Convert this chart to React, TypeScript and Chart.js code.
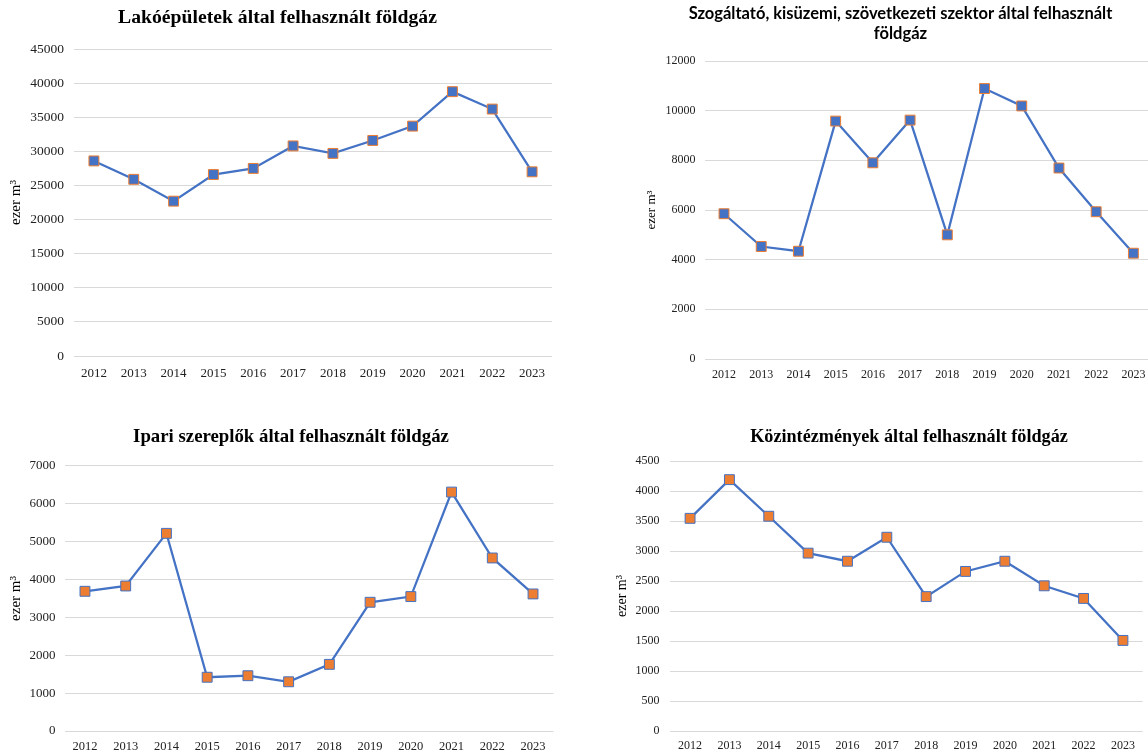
import React, { useEffect, useRef } from 'react';
import { Chart, registerables } from 'chart.js';

Chart.register(...registerables);

// ---- data ----
const years = ['2012', '2013', '2014', '2015', '2016', '2017', '2018', '2019', '2020', '2021', '2022', '2023'];
const residentialValues = [28600, 25900, 22700, 26600, 27500, 30800, 29700, 31600, 33700, 38750, 36200, 27000];
const serviceValues = [5850, 4530, 4340, 9580, 7900, 9620, 5000, 10890, 10190, 7690, 5930, 4260];
const industrialValues = [3690, 3830, 5220, 1420, 1460, 1300, 1760, 3400, 3550, 6310, 4570, 3620];
const publicValues = [3545, 4190, 3580, 2965, 2830, 3230, 2240, 2660, 2830, 2420, 2210, 1510];

const residentialTitle = 'Lakóépületek által felhasznált földgáz';
const serviceTitle = ['Szogáltató, kisüzemi, szövetkezeti szektor által felhasznált', 'földgáz'];
const industrialTitle = 'Ipari szereplők által felhasznált földgáz';
const publicTitle = 'Közintézmények által felhasznált földgáz';
const yAxisTitle = 'ezer m³';

const yMax = [45000, 12000, 7000, 4500];
const yStep = [5000, 2000, 1000, 500];

// ---- styles ----
const BLUE = '#4472C4';
const ORANGE = '#ED7D31';
const GRID = '#D9D9D9';
const SERIF = '"Liberation Serif", "Times New Roman", serif';
const SANS = 'Lato, "Liberation Sans", sans-serif';

type Spec = {
  left: number; top: number; width: number; height: number;
  yAxisWidth: number; rightWidth: number; xAxisHeight: number;
  title: string | string[]; titleFamily: string; titleSize: number; titleLH: number;
  titlePadTop: number; titlePadBottom: number;
  yTitleSize: number; yTitlePad: number;
  yTickSize: number; yTickPad: number;
  xTickSize: number; xTickPad: number;
  values: number[]; max: number; step: number;
  pointFill: string; pointBorder: string;
};

const specs: Spec[] = [
  {
    left: -7, top: 0, width: 569, height: 390,
    yAxisWidth: 81, rightWidth: 10, xAxisHeight: 34,
    title: residentialTitle, titleFamily: SERIF, titleSize: 19.7, titleLH: 1.2,
    titlePadTop: 6.2, titlePadBottom: 19.2,
    yTitleSize: 15, yTitlePad: 14,
    yTickSize: 13.5, yTickPad: 10,
    xTickSize: 13, xTickPad: 10,
    values: residentialValues, max: yMax[0], step: yStep[0],
    pointFill: BLUE, pointBorder: ORANGE,
  },
  {
    left: 639, top: 0, width: 523, height: 390,
    yAxisWidth: 66.4, rightWidth: 10, xAxisHeight: 31,
    title: serviceTitle, titleFamily: SANS, titleSize: 16.5, titleLH: 20 / 16.5,
    titlePadTop: 4, titlePadBottom: 17,
    yTitleSize: 13, yTitlePad: 5.2,
    yTickSize: 12, yTickPad: 10,
    xTickSize: 12, xTickPad: 9,
    values: serviceValues, max: yMax[1], step: yStep[1],
    pointFill: BLUE, pointBorder: ORANGE,
  },
  {
    left: 0, top: 390, width: 582, height: 366,
    yAxisWidth: 64.6, rightWidth: 28.6, xAxisHeight: 25,
    title: industrialTitle, titleFamily: SERIF, titleSize: 18.8, titleLH: 1.2,
    titlePadTop: 35.7, titlePadBottom: 17.7,
    yTitleSize: 15, yTitlePad: 7,
    yTickSize: 13, yTickPad: 9,
    xTickSize: 12.5, xTickPad: 8,
    values: industrialValues, max: yMax[2], step: yStep[2],
    pointFill: ORANGE, pointBorder: BLUE,
  },
  {
    left: 605, top: 390, width: 608, height: 366,
    yAxisWidth: 65.4, rightWidth: 70.4, xAxisHeight: 25,
    title: publicTitle, titleFamily: SERIF, titleSize: 18.2, titleLH: 1.2,
    titlePadTop: 36.1, titlePadBottom: 13.1,
    yTitleSize: 14, yTitlePad: 8.6,
    yTickSize: 12, yTickPad: 11,
    xTickSize: 12, xTickPad: 8,
    values: publicValues, max: yMax[3], step: yStep[3],
    pointFill: ORANGE, pointBorder: BLUE,
  },
];

function LineChart({ spec }: { spec: Spec }) {
  const ref = useRef<HTMLCanvasElement | null>(null);
  useEffect(() => {
    if (!ref.current) return;
    const chart = new Chart(ref.current, {
      type: 'line',
      data: {
        labels: years,
        datasets: [
          {
            data: spec.values,
            borderColor: BLUE,
            borderWidth: 2.25,
            backgroundColor: spec.pointFill,
            pointStyle: 'rect',
            pointRadius: 7,
            pointBackgroundColor: spec.pointFill,
            pointBorderColor: spec.pointBorder,
            pointBorderWidth: 1,
            tension: 0,
            fill: false,
          },
        ],
      },
      options: {
        responsive: false,
        animation: false,
        devicePixelRatio: 1,
        layout: { padding: 0 },
        plugins: {
          legend: { display: false },
          tooltip: { enabled: false },
          title: {
            display: true,
            text: spec.title,
            color: '#000',
            font: { family: spec.titleFamily, size: spec.titleSize, weight: 'bold', lineHeight: spec.titleLH },
            padding: { top: spec.titlePadTop, bottom: spec.titlePadBottom },
          },
        },
        scales: {
          x: {
            type: 'category',
            offset: true,
            grid: { display: false, drawTicks: false },
            border: { display: false },
            ticks: {
              color: '#222',
              font: { family: SERIF, size: spec.xTickSize },
              padding: spec.xTickPad,
              autoSkip: false,
              maxRotation: 0,
            },
            afterFit: (s: any) => { s.height = spec.xAxisHeight; },
          },
          y: {
            type: 'linear',
            position: 'left',
            min: 0,
            max: spec.max,
            grid: { color: GRID, lineWidth: 1, drawTicks: false },
            border: { display: false },
            ticks: {
              stepSize: spec.step,
              color: '#222',
              font: { family: SERIF, size: spec.yTickSize },
              padding: spec.yTickPad,
              callback: (v: any) => String(v),
            },
            title: {
              display: true,
              text: yAxisTitle,
              color: '#000',
              font: { family: SERIF, size: spec.yTitleSize, lineHeight: 1.2 },
              padding: { top: spec.yTitlePad, bottom: 0 },
            },
            afterFit: (s: any) => { s.width = spec.yAxisWidth; },
          },
          yRight: {
            type: 'linear',
            position: 'right',
            display: true,
            grid: { display: false, drawTicks: false },
            border: { display: false },
            ticks: { display: false },
            afterFit: (s: any) => { s.width = spec.rightWidth; },
          },
        },
      },
    } as any);
    return () => chart.destroy();
  }, [spec]);
  return (
    <canvas
      ref={ref}
      width={spec.width}
      height={spec.height}
      style={{ position: 'absolute', left: spec.left, top: spec.top, width: spec.width, height: spec.height }}
    />
  );
}

export default function App() {
  return (
    <div
      style={{
        position: 'absolute',
        left: 0,
        top: 0,
        width: 1148,
        height: 756,
        overflow: 'hidden',
        background: '#fff',
      }}
    >
      {specs.map((s, i) => (
        <LineChart key={i} spec={s} />
      ))}
    </div>
  );
}
